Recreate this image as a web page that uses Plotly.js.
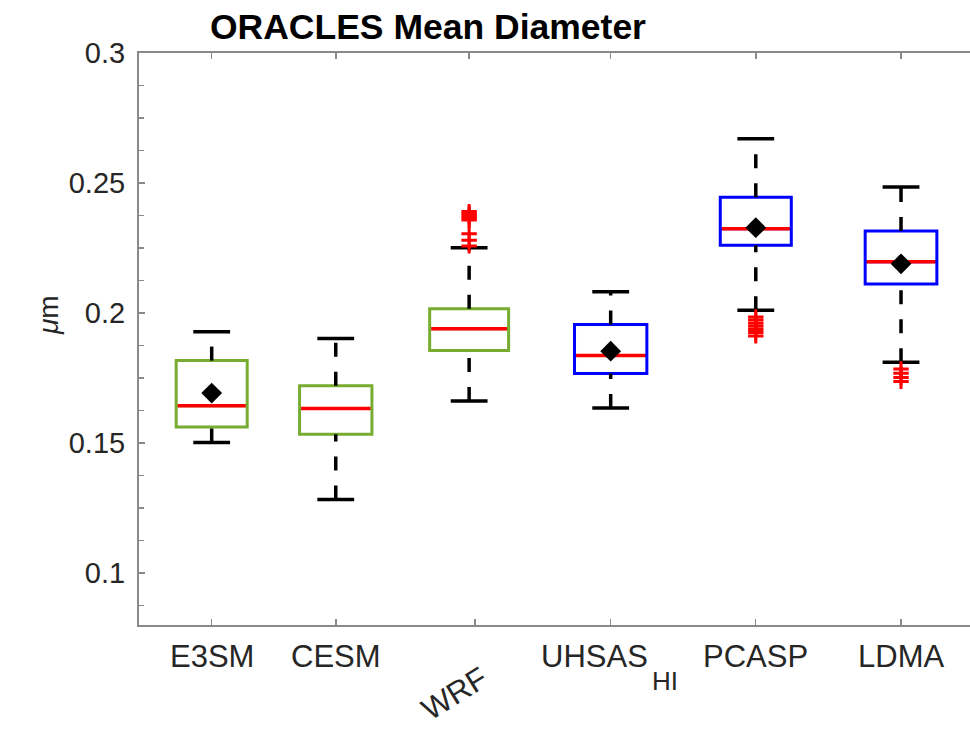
<!DOCTYPE html>
<html><head><meta charset="utf-8">
<script src="https://cdn.plot.ly/plotly-3.0.1.min.js"></script>
<style>html,body{margin:0;padding:0;background:#fff}#chart{width:970px;height:730px}</style>
</head><body><div id="chart"></div>
<script>
// ---------------- data ----------------
const categories   = ['E3SM', 'CESM', 'WRF', 'UHSAS', 'PCASP', 'LDMA'];
const labelSubs    = ['', '', '', 'HI', '', ''];
const sourceType   = ['model', 'model', 'model', 'obs', 'obs', 'obs'];
const lowerWhisker = [0.1502, 0.1283, 0.1662, 0.1635, 0.2011, 0.1811];
const q1Vals       = [0.1562, 0.1534, 0.1856, 0.1767, 0.2261, 0.2112];
const medianVals   = [0.1643, 0.1633, 0.1939, 0.1837, 0.2324, 0.2197];
const q3Vals       = [0.1817, 0.1720, 0.2016, 0.1956, 0.2445, 0.2315];
const upperWhisker = [0.1928, 0.1902, 0.2251, 0.2082, 0.2670, 0.2485];
const meanVals     = [0.1692, null, null, 0.1853, 0.2328, 0.2189];
const outlierVals  = [
  [],
  [],
  [0.2390, 0.2382, 0.2374, 0.2366, 0.2358, 0.2305, 0.2280, 0.2258],
  [],
  [0.1985, 0.1973, 0.1961, 0.1949, 0.1937, 0.1925, 0.1912],
  [0.1785, 0.1768, 0.1752, 0.1737]
];
const yTitle = '<i>μ</i>m';
const chartTitle = 'ORACLES Mean Diameter';

// ---------------- layout constants (positions / styles) ----------------
const BOX_X  = [1.0, 1.943, 2.957, 4.033, 5.136, 6.240];
const TICK_X = [1.0, 1.943, 3.0, 4.032, 5.132, 6.240];
const BOX_W  = [0.54, 0.55, 0.60, 0.55, 0.54, 0.545];
const LABEL_DX = [0, 0, -20, -16, 0, 0];      // px shift of each x label
const LABEL_ANGLE = [0, 0, -32, 0, 0, 0];
const LABEL_DY = [-31, -31, -68, -31, -31, -31];
const SUB_DX = 39, SUB_DY = -56, SUB_FS = 26;
const CAP_HALF = 0.14;
const COLORS = {model: '#77AC30', obs: '#0000FF'};
const FONT = 'Liberation Sans, Arial, Helvetica, sans-serif';
const AX_COLOR = '#8a8a8a';
const TXT = '#262626';
const XFS = 31;

const traces = [];
categories.forEach((c, i) => {
  traces.push({
    type: 'box', name: c, x: [BOX_X[i]],
    q1: [q1Vals[i]], median: [medianVals[i]], q3: [q3Vals[i]],
    lowerfence: [q1Vals[i]], upperfence: [q3Vals[i]],
    width: BOX_W[i], whiskerwidth: 0, boxpoints: false,
    line: {color: COLORS[sourceType[i]], width: 3},
    fillcolor: 'rgba(0,0,0,0)', hoverinfo: 'skip', showlegend: false
  });
});
// dashed whiskers (drawn upward like MATLAB)
categories.forEach((c, i) => {
  [[q3Vals[i], upperWhisker[i]], [lowerWhisker[i], q1Vals[i]]].forEach(seg => {
    traces.push({
      type: 'scatter', mode: 'lines', x: [BOX_X[i], BOX_X[i]], y: seg,
      line: {color: '#000', width: 3.5, dash: '14px,15px'},
      hoverinfo: 'skip', showlegend: false
    });
  });
});
// caps
const capX = [], capY = [];
categories.forEach((c, i) => {
  [upperWhisker[i], lowerWhisker[i]].forEach(v => {
    capX.push(BOX_X[i] - CAP_HALF, BOX_X[i] + CAP_HALF, null);
    capY.push(v, v, null);
  });
});
traces.push({type: 'scatter', mode: 'lines', x: capX, y: capY,
  line: {color: '#000', width: 3.5}, hoverinfo: 'skip', showlegend: false});
// medians
const medX = [], medY = [];
categories.forEach((c, i) => {
  medX.push(BOX_X[i] - BOX_W[i] / 2 + 0.012, BOX_X[i] + BOX_W[i] / 2 - 0.012, null);
  medY.push(medianVals[i], medianVals[i], null);
});
traces.push({type: 'scatter', mode: 'lines', x: medX, y: medY,
  line: {color: '#FF0000', width: 3.5}, hoverinfo: 'skip', showlegend: false});
// outliers
const oX = [], oY = [];
outlierVals.forEach((arr, i) => arr.forEach(v => { oX.push(BOX_X[i]); oY.push(v); }));
traces.push({type: 'scatter', mode: 'markers', x: oX, y: oY,
  marker: {symbol: 'cross-thin', size: 11, color: '#FF0000', line: {color: '#FF0000', width: 3}},
  hoverinfo: 'skip', showlegend: false});
// means
const mX = [], mY = [];
meanVals.forEach((v, i) => { if (v !== null) { mX.push(BOX_X[i]); mY.push(v); } });
traces.push({type: 'scatter', mode: 'markers', x: mX, y: mY,
  marker: {symbol: 'diamond', size: 16, color: '#000'}, hoverinfo: 'skip', showlegend: false});
// dummy trace to activate the top axis
traces.push({type: 'scatter', mode: 'markers', x: [BOX_X[0]], y: [null], xaxis: 'x2', yaxis: 'y',
  hoverinfo: 'skip', showlegend: false});

// x labels as annotations (WRF is rotated, UHSAS carries a subscript)
const annotations = [];
categories.forEach((c, i) => {
  annotations.push({
    text: c, x: TICK_X[i], xref: 'x', y: 0, yref: 'paper',
    xanchor: 'center', yanchor: 'middle', borderpad: 0,
    xshift: LABEL_DX[i], yshift: LABEL_DY[i], textangle: LABEL_ANGLE[i], showarrow: false,
    font: {family: FONT, size: XFS, color: TXT}
  });
  if (labelSubs[i]) {
    annotations.push({
      text: labelSubs[i], x: TICK_X[i], xref: 'x', y: 0, yref: 'paper',
      xanchor: 'left', yanchor: 'middle',
      xshift: LABEL_DX[i] + SUB_DX + 16, yshift: SUB_DY, showarrow: false,
      font: {family: FONT, size: SUB_FS, color: TXT}
    });
  }
});
annotations.push({
  text: yTitle, x: 0, xref: 'paper', y: 1 - (315 - 53) / 572, yref: 'paper',
  xanchor: 'center', yanchor: 'middle', xshift: -91, textangle: -90, showarrow: false,
  font: {family: FONT, size: 28, color: TXT}
});

const XR = [0.4474, 6.7644];
const layout = {
  width: 970, height: 730,
  margin: {l: 139, r: 0, t: 53, b: 105},
  paper_bgcolor: '#fff', plot_bgcolor: '#fff',
  showlegend: false,
  font: {family: FONT, color: TXT},
  title: {
    text: '<b>' + chartTitle + '</b>',
    font: {family: FONT, size: 35.5, color: '#000'},
    x: 0.4412, xanchor: 'center', y: 0.963, yanchor: 'middle', xref: 'container', yref: 'container'
  },
  xaxis: {
    range: XR, tickmode: 'array', tickvals: TICK_X, showticklabels: false,
    ticks: 'inside', ticklen: 6, tickwidth: 1.5, tickcolor: AX_COLOR,
    showline: true, linecolor: AX_COLOR, linewidth: 2, mirror: false,
    showgrid: false, zeroline: false
  },
  xaxis2: {
    range: XR, overlaying: 'x', side: 'top', anchor: 'y',
    tickmode: 'array', tickvals: BOX_X, showticklabels: false,
    ticks: 'inside', ticklen: 6, tickwidth: 1.5, tickcolor: AX_COLOR,
    showline: true, linecolor: AX_COLOR, linewidth: 2, showgrid: false, zeroline: false
  },
  yaxis: {
    range: [0.08, 0.3], tickmode: 'linear', tick0: 0.1, dtick: 0.05,
    ticks: 'inside', ticklen: 6, tickwidth: 1.5, tickcolor: AX_COLOR,
    minor: {ticks: 'inside', dtick: 0.0125, tick0: 0.1, ticklen: 5, tickwidth: 1.5, tickcolor: AX_COLOR, showgrid: false},
    showline: true, linecolor: AX_COLOR, linewidth: 2, mirror: false,
    showgrid: false, zeroline: false, ticklabelstandoff: 6,
    tickfont: {family: FONT, size: 29, color: TXT}
  },
  annotations: annotations
};

Plotly.newPlot('chart', traces, layout, {displayModeBar: false, staticPlot: true});
</script>
</body></html>
